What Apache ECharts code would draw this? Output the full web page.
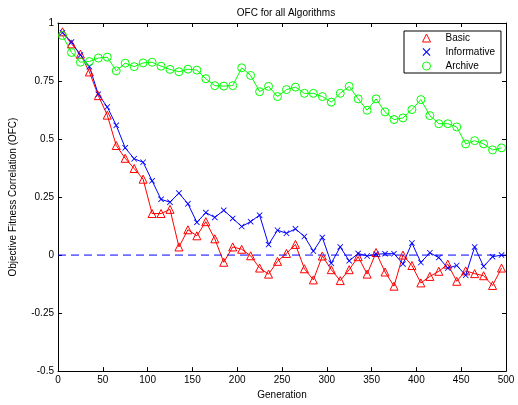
<!DOCTYPE html>
<html lang="en">

<head>
    <meta charset="UTF-8">
    <title>OFC for all Algorithms</title>
    <script src="https://cdn.jsdelivr.net/npm/echarts@6/dist/echarts.min.js"></script>
    <style>
        body { margin: 0; background: #fff; }
    </style>
</head>

<body>
    <div id="main" style="width: 518px;height:405px;"></div>
    <script type="text/javascript">
        // generations (one point every 10)
        var generations = [];
        for (var g = 5; g <= 495; g += 10) generations.push(g);

        var basic = [0.962, 0.910, 0.866, 0.789, 0.687, 0.603, 0.472, 0.417, 0.373, 0.327,
            0.179, 0.179, 0.197, 0.035, 0.109, 0.083, 0.144, 0.070, -0.031, 0.035,
            0.025, -0.003, -0.056, -0.082, -0.027, 0.007, 0.046, -0.059, -0.107, -0.004,
            -0.063, -0.110, -0.063, -0.007, -0.082, 0.011, -0.073, -0.134, 0.000, -0.045,
            -0.120, -0.092, -0.070, -0.039, -0.113, -0.068, -0.080, -0.089, -0.131, -0.056];

        var informative = [0.958, 0.918, 0.862, 0.812, 0.693, 0.638, 0.559, 0.462, 0.415, 0.400,
            0.320, 0.240, 0.228, 0.267, 0.221, 0.141, 0.183, 0.162, 0.193, 0.158,
            0.123, 0.144, 0.172, 0.045, 0.107, 0.094, 0.113, 0.080, 0.017, 0.076,
            -0.035, 0.035, -0.025, 0.007, -0.004, 0.003, 0.006, 0.006, -0.038, 0.052,
            -0.032, 0.010, -0.011, -0.056, -0.045, -0.087, 0.035, -0.049, -0.007, 0.000];

        var archive = [0.946, 0.873, 0.831, 0.834, 0.849, 0.853, 0.794, 0.827, 0.812, 0.828,
            0.831, 0.814, 0.800, 0.790, 0.801, 0.797, 0.760, 0.730, 0.728, 0.730,
            0.807, 0.774, 0.704, 0.727, 0.683, 0.713, 0.724, 0.697, 0.697, 0.683,
            0.659, 0.697, 0.727, 0.673, 0.624, 0.673, 0.617, 0.584, 0.591, 0.627,
            0.670, 0.601, 0.566, 0.566, 0.552, 0.479, 0.493, 0.479, 0.453, 0.462];

        // dashed reference line at zero
        var zeroLineX = [0, 500];
        var zeroLineY = [0, 0];

        var font = 'Liberation Sans, Arial, Helvetica, sans-serif';
        var crossPath = 'path://M0,1L1,0L5,4L9,0L10,1L6,5L10,9L9,10L5,6L1,10L0,9L4,5Z';
        var clear = 'rgba(255,255,255,0)';

        function pairs(xs, ys) {
            return ys.map(function (y, i) { return [xs[i], y]; });
        }

        var myChart = echarts.init(document.getElementById('main'));

        // 座標軸共用設定（MATLAB 風格：刻度朝內、四邊框）
        var axisCommon = {
            axisLine: { show: true, onZero: false, lineStyle: { color: '#000', width: 1 } },
            axisTick: { show: true, inside: true, length: 4, lineStyle: { color: '#000' } },
            splitLine: { show: false },
            axisLabel: { color: '#000', fontSize: 10, fontFamily: font }
        };

        var option = {
            animation: false,
            backgroundColor: '#fff',
            title: {
                text: 'OFC for all Algorithms',
                left: 281, textAlign: 'center', top: 3,
                textStyle: { fontSize: 10, fontWeight: 'normal', color: '#000', fontFamily: font }
            },
            legend: {
                orient: 'vertical',
                left: 404, top: 31,
                padding: [2, 6, 2, 18],
                itemWidth: 8, itemHeight: 8, itemGap: 4,
                borderColor: '#000', borderWidth: 1,
                backgroundColor: '#fff',
                textStyle: { fontSize: 10, color: '#000', fontFamily: font, padding: [0, 0, 0, 10] },
                data: [
                    { name: 'Basic', icon: 'triangle',
                      itemStyle: { color: clear, borderColor: '#ff0000', borderWidth: 1 } },
                    { name: 'Informative', icon: crossPath,
                      itemStyle: { color: '#0000ff', borderWidth: 0 } },
                    { name: 'Archive', icon: 'circle',
                      itemStyle: { color: clear, borderColor: '#00ff00', borderWidth: 1 } }
                ]
            },
            grid: { left: 56, right: 12, top: 23, bottom: 27 },
            xAxis: [
                Object.assign({}, axisCommon, {
                    type: 'value', min: 0, max: 500, interval: 50,
                    name: 'Generation', nameLocation: 'middle', nameGap: 14,
                    nameTextStyle: { fontSize: 10, color: '#000', fontFamily: font },
                    axisLabel: Object.assign({}, axisCommon.axisLabel, { margin: 4 })
                }),
                Object.assign({}, axisCommon, {
                    type: 'value', min: 0, max: 500, interval: 50, position: 'top',
                    axisLabel: { show: false }
                })
            ],
            yAxis: [
                Object.assign({}, axisCommon, {
                    type: 'value', min: -0.5, max: 1, interval: 0.25,
                    name: 'Objective Fitness Correlation (OFC)', nameLocation: 'middle', nameGap: 40,
                    nameTextStyle: { fontSize: 10, color: '#000', fontFamily: font },
                    axisLabel: Object.assign({}, axisCommon.axisLabel, { margin: 4 })
                }),
                Object.assign({}, axisCommon, {
                    type: 'value', min: -0.5, max: 1, interval: 0.25, position: 'right',
                    axisLabel: { show: false }
                })
            ],
            series: [
                {
                    name: 'Basic', type: 'line',
                    data: pairs(generations, basic),
                    symbol: 'triangle', symbolSize: 8,
                    lineStyle: { width: 1, color: '#ff0000' },
                    itemStyle: { color: clear, borderColor: '#ff0000', borderWidth: 1 }
                },
                {
                    name: 'Informative', type: 'line',
                    data: pairs(generations, informative),
                    symbol: crossPath, symbolSize: 6,
                    lineStyle: { width: 1, color: '#0000ff' },
                    itemStyle: { color: '#0000ff', borderWidth: 0 }
                },
                {
                    name: 'Archive', type: 'line',
                    data: pairs(generations, archive),
                    symbol: 'circle', symbolSize: 8,
                    lineStyle: { width: 1, color: '#00ff00' },
                    itemStyle: { color: clear, borderColor: '#00ff00', borderWidth: 1 }
                },
                {
                    name: 'zero', type: 'line',
                    data: pairs(zeroLineX, zeroLineY),
                    symbol: 'none', silent: true,
                    lineStyle: { width: 1, color: '#0000ff', type: [8, 5] }
                }
            ]
        };

        myChart.setOption(option);
    </script>
</body>

</html>
